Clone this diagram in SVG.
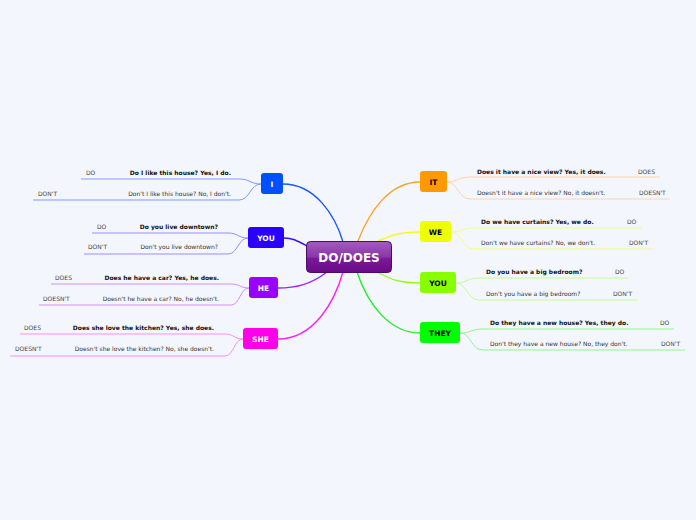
<svg xmlns="http://www.w3.org/2000/svg" width="696" height="520" viewBox="0 0 696 520">
<defs>
<linearGradient id="cg" x1="0" y1="0" x2="0" y2="1">
<stop offset="0" stop-color="#a35cbd"/>
<stop offset="0.5" stop-color="#8a36a8"/>
<stop offset="0.55" stop-color="#7a1a98"/>
<stop offset="1" stop-color="#6a0a88"/>
</linearGradient>
<style>
.q{font-family:"DejaVu Sans",Verdana,sans-serif;font-size:6px;fill:#333}
.b{font-weight:bold;fill:#111}
.k{font-family:"DejaVu Sans",Verdana,sans-serif;font-size:6px;fill:#444}
.e{text-anchor:end}
.nt{font-family:"DejaVu Sans",Verdana,sans-serif;font-size:7.5px;font-weight:bold;text-anchor:middle}
.main{fill:none;stroke-width:1.4}
.sub{fill:none;stroke-width:1}
</style>
</defs>
<rect width="696" height="520" fill="#f3f6fd"/>
<g id="connectors">
<path class="main" stroke="#1a55ff" d="M343,242 C335,215 315,184 283,184"/>
<path class="main" stroke="#3a10ff" d="M307,246 C296,240 292,238 284,238"/>
<path class="main" stroke="#a020ff" d="M327,272 C310,285 295,288 278,288"/>
<path class="main" stroke="#ff20ee" d="M343,272 C335,300 315,339 278,339"/>
<path class="main" stroke="#ffa020" d="M358,241 C370,210 390,182 420,182"/>
<path class="main" stroke="#f0ff20" d="M378,241 C392,235 400,232 420,232"/>
<path class="main" stroke="#90ff20" d="M377,272 C392,280 400,283 420,283"/>
<path class="main" stroke="#20f020" d="M357,272 C368,305 390,333 420,333"/>

<path class="sub" stroke="#7e9bff" d="M261,184 C250,184 250,179 239,179 L81,179"/>
<path class="sub" stroke="#7e9bff" d="M261,184 C250,184 250,200 239,200 L33,200"/>
<path class="sub" stroke="#9b8cff" d="M248,238 C238,238 238,233 228,233 L92,233"/>
<path class="sub" stroke="#9b8cff" d="M248,238 C238,238 238,254 228,254 L84,254"/>
<path class="sub" stroke="#cf8fff" d="M249,288 C240,288 240,284 231,284 L51,284"/>
<path class="sub" stroke="#cf8fff" d="M249,288 C240,288 240,305 231,305 L39,305"/>
<path class="sub" stroke="#ff8cf0" d="M243,339 C234,339 234,334 225,334 L20,334"/>
<path class="sub" stroke="#ff8cf0" d="M243,339 C234,339 234,356 225,356 L10,356"/>

<path class="sub" stroke="#ffd5a5" d="M447,182 C458,182 458,177 470,177 L660,177"/>
<path class="sub" stroke="#ffd5a5" d="M447,182 C458,182 458,199 470,199 L670,199"/>
<path class="sub" stroke="#f4ff7a" d="M451,232 C462,232 462,228 474,228 L642,228"/>
<path class="sub" stroke="#f4ff7a" d="M451,232 C462,232 462,249 474,249 L653,249"/>
<path class="sub" stroke="#c4ff8c" d="M456,283 C467,283 467,278 479,278 L628,278"/>
<path class="sub" stroke="#c4ff8c" d="M456,283 C467,283 467,300 479,300 L637,300"/>
<path class="sub" stroke="#92f592" d="M460,333 C471,333 471,329 483,329 L674,329"/>
<path class="sub" stroke="#92f592" d="M460,333 C471,333 471,350 483,350 L685,350"/>
</g>

<g id="center">
<rect x="306.5" y="241.5" width="85" height="31" rx="4" fill="url(#cg)" stroke="#4a0a66" stroke-width="1"/>
<text x="349" y="262" font-family="DejaVu Sans,Verdana,sans-serif" font-size="12" font-weight="bold" fill="#fff" text-anchor="middle">DO/DOES</text>
</g>

<g id="node-i">
<rect x="261" y="173" width="22" height="21" rx="3" fill="#0050ff"/>
<text class="nt" x="272" y="186.7" fill="#fff">I</text>
<text class="k" x="86" y="175">DO</text>
<text class="q b e" x="231" y="175">Do I like this house? Yes, I do.</text>
<text class="k" x="38" y="196">DON'T</text>
<text class="q e" x="231" y="196">Don't I like this house? No, I don't.</text>
</g>

<g id="node-you-left">
<rect x="248" y="227" width="36" height="21" rx="3" fill="#2a00ff"/>
<text class="nt" x="266" y="240.7" fill="#fff">YOU</text>
<text class="k" x="97" y="229">DO</text>
<text class="q b e" x="218" y="229">Do you live downtown?</text>
<text class="k" x="88" y="249">DON'T</text>
<text class="q e" x="218" y="249">Don't you live downtown?</text>
</g>

<g id="node-he">
<rect x="249" y="277" width="29" height="21" rx="3" fill="#9900ff"/>
<text class="nt" x="263.5" y="290.7" fill="#fff">HE</text>
<text class="k" x="55" y="280">DOES</text>
<text class="q b e" x="219" y="280">Does he have a car? Yes, he does.</text>
<text class="k" x="43" y="301">DOESN'T</text>
<text class="q e" x="219" y="301">Doesn't he have a car? No, he doesn't.</text>
</g>

<g id="node-she">
<rect x="243" y="328" width="35" height="21" rx="3" fill="#ff00ea"/>
<text class="nt" x="260.5" y="341.7" fill="#fff">SHE</text>
<text class="k" x="24" y="330">DOES</text>
<text class="q b e" x="214" y="330">Does she love the kitchen? Yes, she does.</text>
<text class="k" x="15" y="351">DOESN'T</text>
<text class="q e" x="214" y="351">Doesn't she love the kitchen? No, she doesn't.</text>
</g>

<g id="node-it">
<rect x="420" y="171" width="27" height="21" rx="3" fill="#ff9900"/>
<text class="nt" x="433.5" y="184.7" fill="#000">IT</text>
<text class="q b" x="477" y="174">Does it have a nice view? Yes, it does.</text>
<text class="k" x="638" y="174">DOES</text>
<text class="q" x="477" y="195">Doesn't it have a nice view? No, it doesn't.</text>
<text class="k" x="639" y="195">DOESN'T</text>
</g>

<g id="node-we">
<rect x="420" y="221" width="31" height="21" rx="3" fill="#eeff00"/>
<text class="nt" x="435.5" y="234.7" fill="#000">WE</text>
<text class="q b" x="481" y="224">Do we have curtains? Yes, we do.</text>
<text class="k" x="627" y="224">DO</text>
<text class="q" x="481" y="245">Don't we have curtains? No, we don't.</text>
<text class="k" x="629" y="245">DON'T</text>
</g>

<g id="node-you-right">
<rect x="420" y="272" width="36" height="21" rx="3" fill="#88ff00"/>
<text class="nt" x="438" y="285.7" fill="#000">YOU</text>
<text class="q b" x="486" y="274">Do you have a big bedroom?</text>
<text class="k" x="615" y="274">DO</text>
<text class="q" x="486" y="296">Don't you have a big bedroom?</text>
<text class="k" x="613" y="296">DON'T</text>
</g>

<g id="node-they">
<rect x="420" y="322" width="40" height="21" rx="3" fill="#00ff00"/>
<text class="nt" x="440" y="335.7" fill="#000">THEY</text>
<text class="q b" x="490" y="325">Do they have a new house? Yes, they do.</text>
<text class="k" x="660" y="325">DO</text>
<text class="q" x="490" y="346">Don't they have a new house? No, they don't.</text>
<text class="k" x="661" y="346">DON'T</text>
</g>
</svg>
